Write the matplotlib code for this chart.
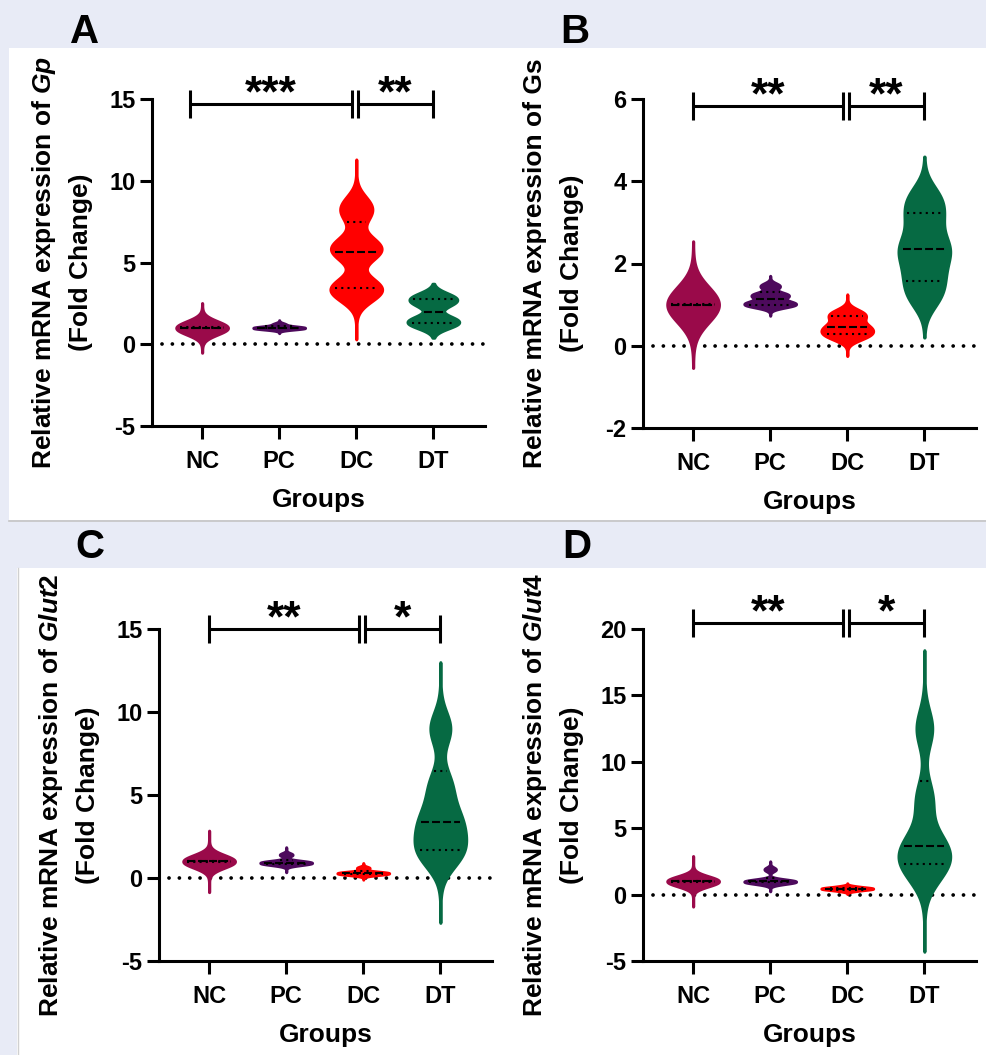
import numpy as np
import matplotlib
matplotlib.use("Agg")
import matplotlib.pyplot as plt
from matplotlib.patches import Rectangle
from matplotlib.lines import Line2D

# ---------------- data (estimated observations per group) ----------------
groups = ["NC", "PC", "DC", "DT"]
group_colors = ["#9a0a4a", "#4d0a5c", "#ff0000", "#066a43"]

# Panel A: Gp
gp_nc = [0.93, 0.99, 1.0, 1.0, 1.01, 1.07]
gp_pc = [0.93, 0.98, 1.0, 1.02, 1.05, 1.22]
gp_dc = [3.0, 3.4, 3.6, 5.5, 5.8, 6.2, 7.9, 8.6]
gp_dt = [1.2, 1.35, 1.5, 2.45, 2.75, 2.9]

# Panel B: Gs
gs_nc = [0.96, 0.995, 1.0, 1.0, 1.005, 1.04]
gs_pc = [0.98, 1.0, 1.06, 1.2, 1.25, 1.45]
gs_dc = [0.2, 0.3, 0.4, 0.5, 0.7, 0.8]
gs_dt = [1.2, 1.7, 2.2, 2.5, 3.1, 3.6]

# Panel C: Glut2
glut2_nc = [0.9, 0.99, 1.0, 1.0, 1.01, 1.1]
glut2_pc = [0.8, 0.88, 0.9, 0.95, 1.0, 1.4]
glut2_dc = [0.2, 0.25, 0.3, 0.3, 0.35, 0.6]
glut2_dt = [1.3, 1.8, 3.0, 3.8, 5.6, 9.0]

# Panel D: Glut4
glut4_nc = [0.9, 0.99, 1.0, 1.0, 1.01, 1.1]
glut4_pc = [0.85, 0.95, 1.0, 1.0, 1.05, 1.9]
glut4_dc = [0.3, 0.4, 0.45, 0.45, 0.5, 0.6]
glut4_dt = [1.6, 2.5, 3.2, 4.1, 7.2, 12.5]

# significance labels (NC vs DC, DC vs DT)
sig_a = ["***", "**"]
sig_b = ["**", "**"]
sig_c = ["**", "*"]
sig_d = ["**", "*"]

yticks_a = [-5, 0, 5, 10, 15]
yticks_b = [-2, 0, 2, 4, 6]
yticks_c = [-5, 0, 5, 10, 15]
yticks_d = [-5, 0, 5, 10, 15, 20]

# ---------------- style ----------------
plt.rcParams.update({
    "font.family": ["Liberation Sans", "DejaVu Sans"],
    "font.weight": "bold",
    "axes.unicode_minus": False,
    "mathtext.fontset": "custom",
    "mathtext.rm": "Liberation Sans:bold",
    "mathtext.it": "Liberation Sans:italic:bold",
    "mathtext.bf": "Liberation Sans:bold",
})

W, H = 986, 1055
BG = "#e8ebf6"
LW = 2.2
HALF = 0.335
DASH = (0, (3.8, 1.5))
DOT = (0, (1.0, 2.0))

fig = plt.figure(figsize=(W / 100, H / 100), dpi=100, facecolor=BG)


def fx(px):
    return px / W


def fy(py):
    return 1 - py / H


def white_box(x0, y0, x1, y1):
    fig.add_artist(Rectangle((fx(x0), fy(y1)), (x1 - x0) / W, (y1 - y0) / H,
                             transform=fig.transFigure, facecolor="white",
                             edgecolor="none", zorder=-5))


white_box(9, 48, 493, 520)
white_box(493, 48, 986, 520)
white_box(17, 568, 493, 1055)
white_box(493, 568, 986, 1055)
fig.add_artist(Line2D([fx(9), 1], [fy(520.5), fy(520.5)], transform=fig.transFigure,
                      color="#c4c4c4", lw=1.2, zorder=-4))
fig.add_artist(Line2D([fx(17.5), fx(17.5)], [fy(568), 0], transform=fig.transFigure,
                      color="#d0d0d0", lw=1.0, zorder=-4))


def draw_violin(ax, pos, obs, bw, ext, color):
    obs = np.asarray(obs, float)
    y = np.linspace(obs.min() - ext, obs.max() + ext, 800)
    dens = np.exp(-0.5 * ((y[:, None] - obs[None, :]) / bw) ** 2).sum(axis=1)
    half = dens / dens.max() * HALF
    poly = ax.fill_betweenx(y, pos - half, pos + half, facecolor=color,
                            edgecolor=color, linewidth=2.2, zorder=3)
    poly.set_joinstyle("round")
    poly.set_capstyle("round")
    q1, med, q3 = np.percentile(obs, [25, 50, 75], method="weibull")
    for q, ls in ((q1, DOT), (q3, DOT), (med, DASH)):
        w = np.interp(q, y, half) * 0.85
        ax.plot([pos - w, pos + w], [q, q], color="black", lw=1.5, ls=ls,
                zorder=4, solid_capstyle="butt", dash_capstyle="butt")


def panel(box, letter, letter_xy, gene_label, datasets, bws, exts, yticks,
          sig, sig_y, start_x, ppu):
    left, right, top, bottom = box
    ax = fig.add_axes([fx(left), fy(bottom), (right - left) / W, (bottom - top) / H])
    ax.set_facecolor("none")
    ax.set_xlim(-0.65, 3.67)
    ax.set_ylim(yticks[0], yticks[-1])
    for s in ("top", "right"):
        ax.spines[s].set_visible(False)
    for s in ("left", "bottom"):
        ax.spines[s].set_linewidth(LW)
    ax.set_yticks(yticks)
    ax.set_yticklabels([str(t) for t in yticks])
    ax.set_xticks(range(len(groups)))
    ax.set_xticklabels(groups)
    ax.tick_params(axis="y", length=9, width=LW, labelsize=17, pad=3)
    ax.tick_params(axis="x", length=9, width=LW, labelsize=17, pad=8)
    ax.set_xlabel("Groups", fontsize=19, fontweight="bold", labelpad=11)

    # zero reference line
    ax.axhline(0, xmin=0.03, xmax=1.0, color="black", lw=2.7,
               ls=(0, (0.01, 2.75)), dash_capstyle="round", zorder=1)

    for i, (obs, bw, ext, col) in enumerate(zip(datasets, bws, exts, group_colors)):
        draw_violin(ax, i, obs, bw, ext, col)

    # y labels (two lines)
    ax.annotate(gene_label, xy=(0, 0.5), xycoords="axes fraction",
                xytext=(-108 * 0.72, 0), textcoords="offset points",
                rotation=90, ha="center", va="center", fontsize=19,
                fontweight="bold", annotation_clip=False)
    ax.annotate("(Fold Change)", xy=(0, 0.5), xycoords="axes fraction",
                xytext=(-71 * 0.72, 0), textcoords="offset points",
                rotation=90, ha="center", va="center", fontsize=19,
                fontweight="bold", annotation_clip=False)

    # significance brackets
    cap = 14 / ppu
    segs = [(start_x, 1.95, sig[0]), (2.02, 3.0, sig[1])]
    for x0, x1, lab in segs:
        ax.plot([x0, x1], [sig_y, sig_y], color="black", lw=LW, clip_on=False,
                solid_capstyle="butt")
        for xx in (x0, x1):
            ax.plot([xx, xx], [sig_y - cap, sig_y + cap], color="black", lw=LW,
                    clip_on=False, solid_capstyle="butt")
        ax.annotate(lab, xy=((x0 + x1) / 2, sig_y), xytext=(0, -2),
                    textcoords="offset points", ha="center", va="baseline",
                    fontsize=32, fontweight="bold", annotation_clip=False)

    fig.text(fx(letter_xy[0]), fy(letter_xy[1]), letter, ha="center",
             va="baseline", fontsize=29, fontweight="bold")
    return ax


panel((152, 485, 99, 426), "A", (85, 43),
      r"Relative mRNA expression of $\mathit{Gp}$",
      [gp_nc, gp_pc, gp_dc, gp_dt], [0.4, 0.08, 0.65, 0.35], [1.45, 0.25, 2.7, 0.8],
      yticks_a, sig_a, 14.7, -0.16, 327 / 20)
panel((643, 976, 99, 428), "B", (575, 43),
      "Relative mRNA expression of Gs",
      [gs_nc, gs_pc, gs_dc, gs_dt], [0.43, 0.07, 0.12, 0.35], [1.5, 0.25, 0.45, 1.0],
      yticks_b, sig_b, 5.83, 0.0, 329 / 8)
panel((159, 492, 629, 961), "C", (90, 558),
      r"Relative mRNA expression of $\mathit{Glut2}$",
      [glut2_nc, glut2_pc, glut2_dc, glut2_dt], [0.37, 0.1, 0.08, 1.0], [1.75, 0.45, 0.3, 4.0],
      yticks_c, sig_c, 15.0, 0.0, 332 / 20)
panel((643, 976, 629, 961), "D", (577, 558),
      r"Relative mRNA expression of $\mathit{Glut4}$",
      [glut4_nc, glut4_pc, glut4_dc, glut4_dt], [0.37, 0.15, 0.08, 1.4], [1.8, 0.6, 0.25, 5.9],
      yticks_d, sig_d, 20.45, 0.0, 332 / 25)

fig.savefig("out.png", dpi=100, facecolor=BG)
